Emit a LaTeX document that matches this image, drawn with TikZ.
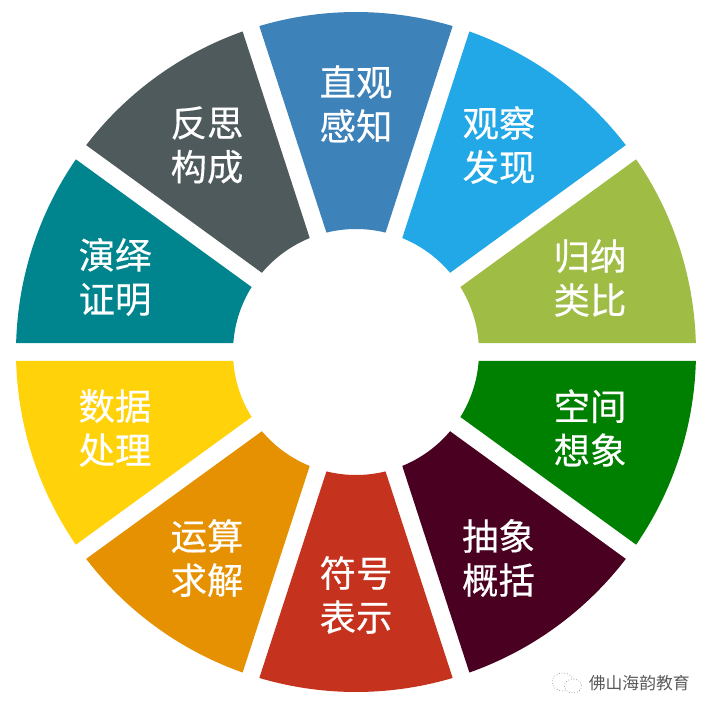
\documentclass[tikz,border=0pt]{standalone}
\usepackage{fontspec}
\setmainfont{Noto Sans CJK SC}
\newfontfamily\segfont[FakeBold=0.35]{Noto Sans CJK SC}
\definecolor{zhiguan}{HTML}{3E82BA}
\definecolor{guancha}{HTML}{22A8E6}
\definecolor{guina}{HTML}{9FBC45}
\definecolor{kongjian}{HTML}{008000}
\definecolor{chouxiang}{HTML}{4A0020}
\definecolor{fuhao}{HTML}{C5321E}
\definecolor{yunsuan}{HTML}{E59102}
\definecolor{shuju}{HTML}{FFD20A}
\definecolor{yanyi}{HTML}{00858E}
\definecolor{fansi}{HTML}{4F5A5C}
\tikzset{
  seglabel/.style={text=white,font=\segfont\fontsize{18.2}{22}\selectfont,align=center,inner sep=0pt},
  marklabel/.style={text=black!65,font=\fontsize{8.4}{10}\selectfont,inner sep=0pt},
  markicon/.style={draw=black!45,densely dotted,line width=.35pt,fill=white}
}
\begin{document}
\begin{tikzpicture}[x=.5pt,y=.5pt]
        \useasboundingbox (-356,352) rectangle (355,-362);
        \foreach \a/\c in {72/zhiguan,36/guancha,0/guina,-36/kongjian,-72/chouxiang,-108/fuhao,-144/yunsuan,-180/shuju,-216/yanyi,-252/fansi}{
            \pgfmathsetmacro{\oa}{\a+1.48}
            \pgfmathsetmacro{\ob}{\a+36-1.48}
            \pgfmathsetmacro{\ia}{\a+4.1}
            \pgfmathsetmacro{\ib}{\a+36-4.1}
            \fill[\c] (\oa:340) arc[start angle=\oa,end angle=\ob,radius=340]
                -- (\ib:123) arc[start angle=\ib,end angle=\ia,radius=123] -- cycle;
        }
        \node[seglabel] (zg) at (0,248) {直观\\感知};
        \node[seglabel] (gc) at (143,207) {观察\\发现};
        \node[seglabel] (gn) at (234,74) {归纳\\类比};
        \node[seglabel] (kj) at (234,-76) {空间\\想象};
        \node[seglabel] (cx) at (142.5,-206) {抽象\\概括};
        \node[seglabel] (fh) at (0,-243) {符号\\表示};
        \node[seglabel] (ys) at (-149,-206) {运算\\求解};
        \node[seglabel] (sj) at (-241,-76) {数据\\处理};
        \node[seglabel] (yy) at (-241,75) {演绎\\证明};
        \node[seglabel] (fs) at (-149,207) {反思\\构成};
        % watermark
        \node[marklabel,anchor=west] (wm) at (232.5,-331) {佛山海韵教育};
        \draw[markicon] (207,-330) ellipse (11 and 9);
        \draw[markicon] (217,-334) ellipse (8.5 and 7);
\end{tikzpicture}
\end{document}
